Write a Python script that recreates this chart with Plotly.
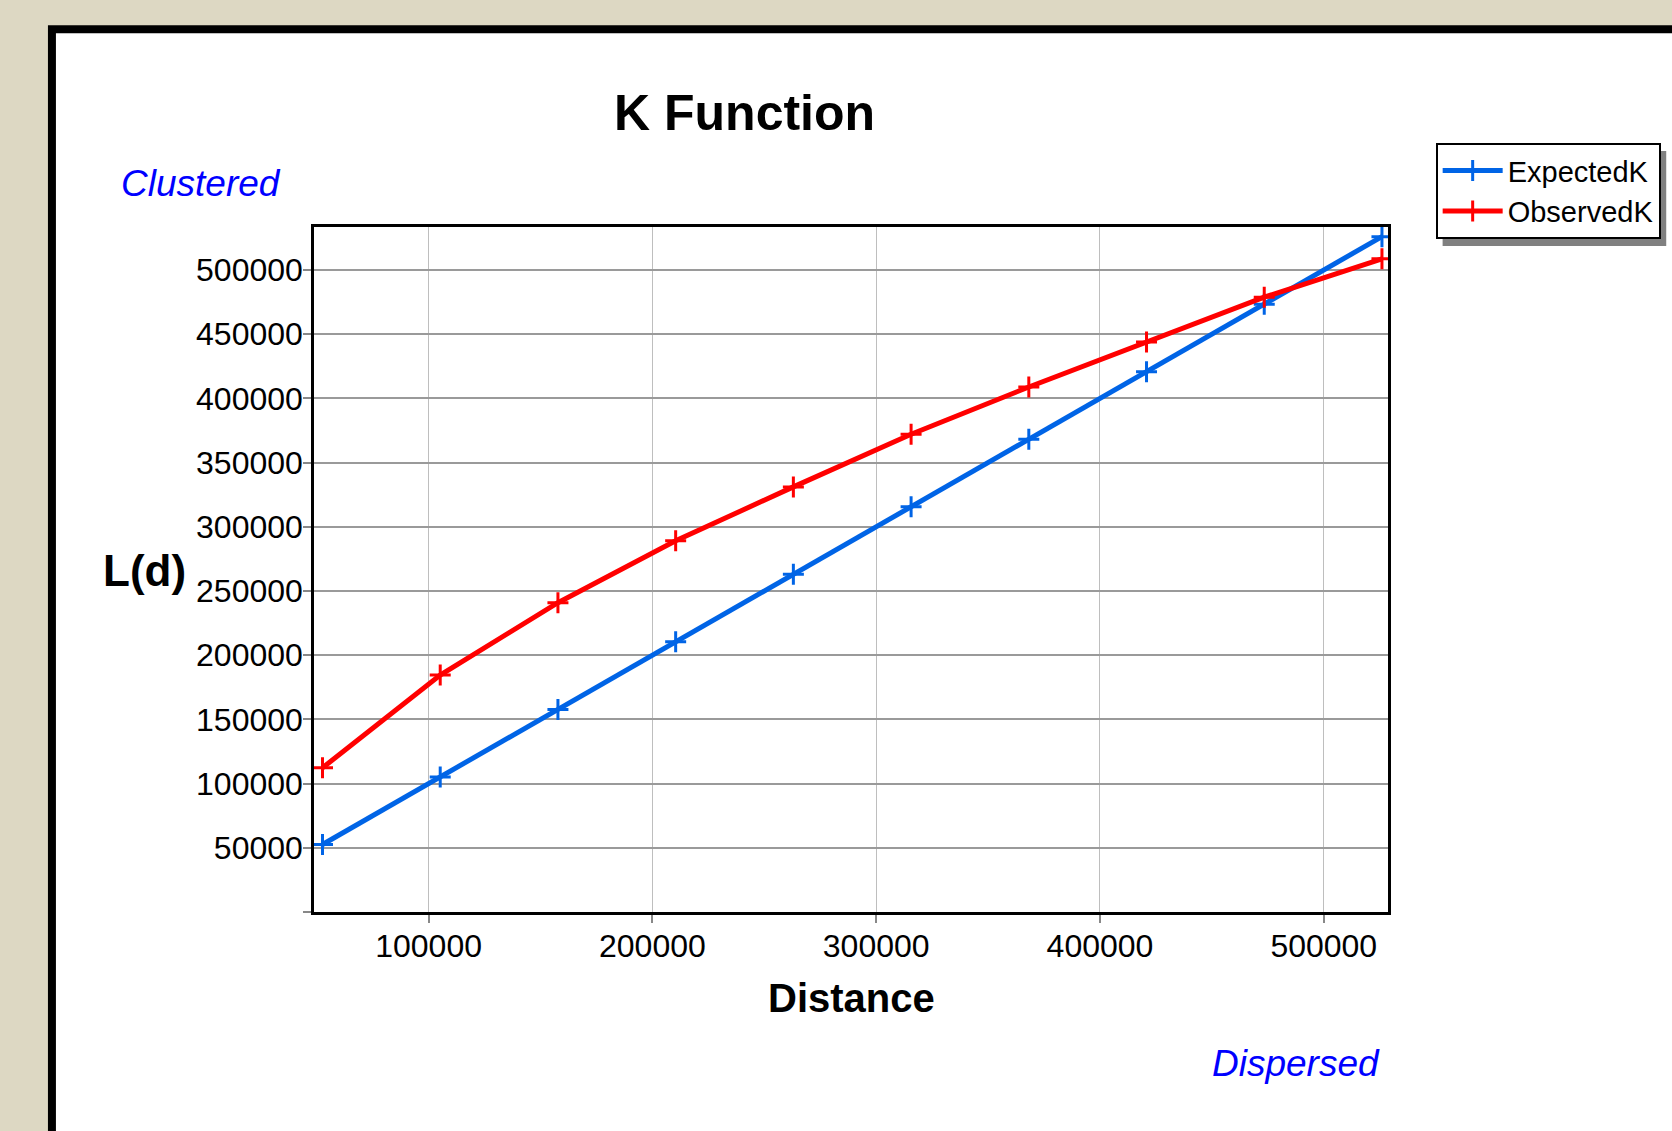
import plotly.graph_objects as go

# ---- data ----
distance = [52600, 105200, 157800, 210400, 263000, 315600, 368200, 420800, 473400, 526000]
expected_k = [52600, 105200, 157800, 210400, 263000, 315600, 368200, 420800, 473400, 526000]
observed_k = [112300, 184500, 240900, 289100, 331100, 372100, 408900, 443900, 478800, 508700]
x_ticks = [100000, 200000, 300000, 400000, 500000]
x_tick_labels = ["100000", "200000", "300000", "400000", "500000"]
y_ticks = [0, 50000, 100000, 150000, 200000, 250000, 300000, 350000, 400000, 450000, 500000]
y_tick_labels = ["", "50000", "100000", "150000", "200000", "250000", "300000",
                 "350000", "400000", "450000", "500000"]

W, H = 1672, 1131
L, R, T, B = 313.5, 282.7, 227, 218.5
PW = W - L - R
PH = H - T - B


def px(x):
    return (x - L) / PW


def py(y):
    return (H - B - y) / PH


SANS = "Liberation Sans, Arial, sans-serif"

fig = go.Figure()
fig.add_trace(go.Scatter(
    x=distance, y=expected_k, name="ExpectedK", mode="lines+markers",
    line=dict(color="#0064E6", width=5),
    marker=dict(symbol="cross-thin", size=15, line=dict(color="#0064E6", width=3), color="#0064E6"),
))
fig.add_trace(go.Scatter(
    x=distance, y=observed_k, name="ObservedK", mode="lines+markers",
    line=dict(color="#FF0000", width=5),
    marker=dict(symbol="cross-thin", size=15, line=dict(color="#FF0000", width=3), color="#FF0000"),
))

shapes = [
    dict(type="rect", xref="paper", yref="paper", x0=px(47), x1=px(1720), y0=py(25), y1=py(1180),
         fillcolor="black", line=dict(width=0), layer="below"),
    dict(type="rect", xref="paper", yref="paper", x0=px(55), x1=px(1720), y0=py(33), y1=py(1180),
         fillcolor="white", line=dict(width=0), layer="below"),
    dict(type="rect", xref="paper", yref="paper", x0=px(1444), x1=px(1668), y0=py(151), y1=py(246),
         fillcolor="#808080", line=dict(width=0), layer="below"),
]

annotations = [
    dict(text="<b>K Function</b>", x=px(745), y=py(113), xref="paper", yref="paper",
         showarrow=False, xanchor="center", yanchor="middle",
         font=dict(family=SANS, size=50, color="black")),
    dict(text="<b>L(d)</b>", x=px(144), y=py(571), xref="paper", yref="paper",
         showarrow=False, xanchor="center", yanchor="middle",
         font=dict(family=SANS, size=44, color="black")),
    dict(text="<b>Distance</b>", x=px(852), y=py(999), xref="paper", yref="paper",
         showarrow=False, xanchor="center", yanchor="middle",
         font=dict(family=SANS, size=40, color="black")),
    dict(text="<i>Clustered</i>", x=px(200), y=py(183), xref="paper", yref="paper",
         showarrow=False, xanchor="center", yanchor="middle",
         font=dict(family=SANS, size=37, color="#0000FF")),
    dict(text="<i>Dispersed</i>", x=px(1297), y=py(1064), xref="paper", yref="paper",
         showarrow=False, xanchor="center", yanchor="middle",
         font=dict(family=SANS, size=37, color="#0000FF")),
]

fig.update_layout(
    width=W, height=H, autosize=False,
    margin=dict(l=L, r=R, t=T, b=B, pad=0),
    paper_bgcolor="#DDD8C3",
    plot_bgcolor="#EEEEEE",
    shapes=shapes,
    annotations=annotations,
    showlegend=True,
    legend=dict(x=px(1436), y=py(143), xanchor="left", yanchor="top",
                bgcolor="white", bordercolor="black", borderwidth=2,
                font=dict(family=SANS, size=29, color="black"),
                itemwidth=60, tracegroupgap=0),
    xaxis=dict(range=[48800, 528700], tickvals=x_ticks, ticktext=x_tick_labels,
               showgrid=True, gridcolor="#BEBEBE", gridwidth=1, zeroline=False,
               showline=True, linecolor="black", linewidth=2.5, mirror=True,
               ticks="outside", ticklen=8, tickwidth=2, tickcolor="#888888",
               ticklabelstandoff=-4,
               tickfont=dict(family=SANS, size=32, color="black")),
    yaxis=dict(range=[0, 533500], tickvals=y_ticks, ticktext=y_tick_labels,
               showgrid=True, gridcolor="#9A9A9A", gridwidth=1.5, zeroline=False,
               showline=True, linecolor="black", linewidth=2.5, mirror=True,
               ticks="outside", ticklen=8, tickwidth=2, tickcolor="#888888",
               ticklabelstandoff=-6,
               tickfont=dict(family=SANS, size=32, color="black")),
)

fig.write_html("out.html", config={"displayModeBar": False},
               post_script="document.body.style.margin='0';document.body.style.overflow='hidden';")
